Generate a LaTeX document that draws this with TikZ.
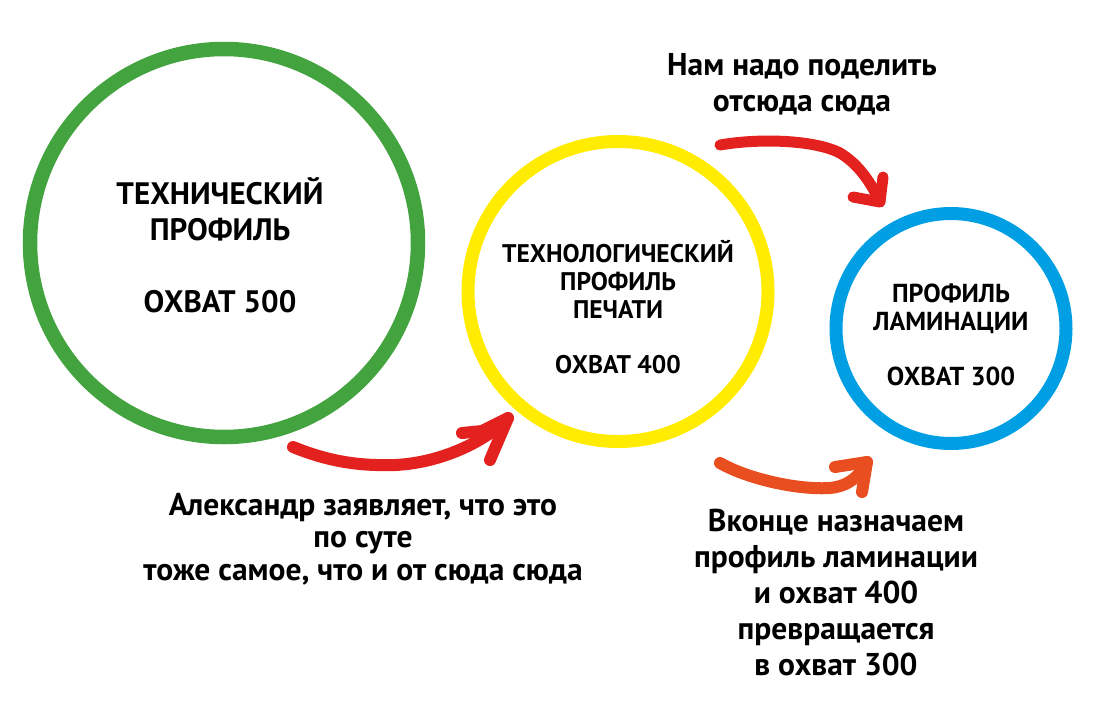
\documentclass[tikz,border=0pt]{standalone}
\usepackage{fontspec}
\setmainfont{PT Sans}
\definecolor{ringgreen}{HTML}{43A33F}
\definecolor{ringyellow}{HTML}{FFEC00}
\definecolor{ringblue}{HTML}{009FE3}
\definecolor{penred}{HTML}{E3221F}
\definecolor{penorange}{HTML}{E84E1F}
\tikzset{
  ring/.style={circle,draw,inner sep=0pt},
  pen/.style={line width=12pt,line cap=round,line join=round},
  txt/.style={align=center,inner sep=0pt,anchor=base}
}
\begin{document}
\begin{tikzpicture}[x=1pt,y=-1pt]
\useasboundingbox (0,0) rectangle (1096,721);
\node[ring,draw=ringgreen,line width=14.5pt,minimum size=388pt] (tech) at (224,243) {};
\node[ring,draw=ringyellow,line width=13pt,minimum size=300pt] (print) at (618,291.5) {};
\node[ring,draw=ringblue,line width=13pt,minimum size=230pt] (lam) at (951,328.5) {};
\node[txt,font=\bfseries\fontsize{31}{36}\selectfont] (techtxt) at (220,312) {ТЕХНИЧЕСКИЙ\\ПРОФИЛЬ\\[36pt]ОХВАТ 500};
\node[txt,font=\bfseries\fontsize{25.5}{28}\selectfont] (printtxt) at (618,373) {ТЕХНОЛОГИЧЕСКИЙ\\ПРОФИЛЬ\\ПЕЧАТИ\\[27pt]ОХВАТ 400};
\node[txt,font=\bfseries\fontsize{26}{28}\selectfont] (lamtxt) at (951,385) {ПРОФИЛЬ\\ЛАМИНАЦИИ\\[27pt]ОХВАТ 300};
\node[txt,font=\bfseries\fontsize{31.5}{36}\selectfont] (toptxt) at (802,111) {Нам надо поделить\\отсюда сюда};
\node[txt,font=\bfseries\fontsize{31.5}{32.5}\selectfont] (lefttxt) at (363,580) {Александр заявляет, что это\\по суте\\тоже самое, что и от сюда сюда};
\node[txt,font=\bfseries\fontsize{31.5}{35.8}\selectfont] (righttxt) at (836,675) {Вконце назначаем\\профиль ламинации\\и охват 400\\превращается\\в охват 300};
\coordinate (a1s) at (293,447);
\coordinate (a1t) at (508,418);
\coordinate (a2s) at (720,145);
\coordinate (a2t) at (880,202);
\coordinate (a3s) at (720,463);
\coordinate (a3t) at (867,462);
\draw[pen,penred] (a1s) .. controls (330,462) and (360,466) .. (395,465) .. controls (440,463) and (485,442) .. (a1t);
\draw[pen,penred] (462,433) -- (482,431) -- (a1t) -- (490,460);
\draw[pen,penred,line width=11pt] (a2s) .. controls (760,138) and (815,140) .. (840,153) .. controls (860,165) and (872,185) .. (a2t);
\draw[pen,penred,line width=11pt] (883,177) -- (a2t) -- (853,197);
\draw[pen,penorange] (a3s) .. controls (750,480) and (800,490) .. (830,488) .. controls (850,486) and (860,475) .. (a3t);
\draw[pen,penorange] (835,467) -- (a3t) -- (862,492);
\end{tikzpicture}
\end{document}
